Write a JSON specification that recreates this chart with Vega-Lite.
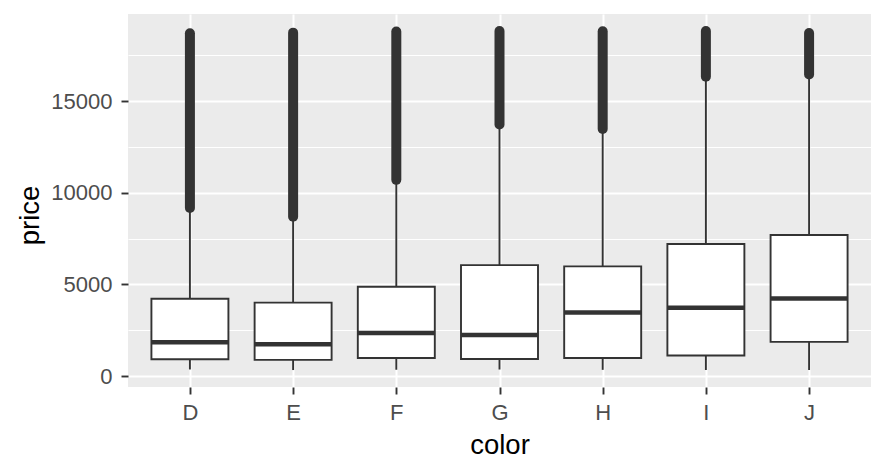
{
  "$schema": "https://vega.github.io/schema/vega-lite/v6.json",
  "width": 743,
  "height": 373,
  "autosize": {"type": "none"},
  "padding": {"left": 128, "top": 14, "right": 15, "bottom": 87},
  "background": "white",
  "view": {"fill": "#EBEBEB", "stroke": null},
  "config": {
    "axis": {
      "domain": false,
      "tickColor": "#333333",
      "tickWidth": 1.9,
      "tickSize": 7,
      "labelColor": "#4D4D4D",
      "labelFont": "Liberation Sans",
      "labelFontSize": 22,
      "titleFont": "Liberation Sans",
      "titleFontSize": 27.5,
      "titleFontWeight": "normal",
      "titleColor": "#000000",
      "gridColor": "#FFFFFF",
      "gridWidth": 2,
      "gridOpacity": 1
    }
  },
  "data": {
    "values": [
      {"color": "D", "lower": 357, "q1": 911, "median": 1838, "q3": 4213.5, "upper": 9163, "out_lo": 9171, "out_hi": 18693},
      {"color": "E", "lower": 326, "q1": 882, "median": 1739, "q3": 4003, "upper": 8681, "out_lo": 8690, "out_hi": 18731},
      {"color": "F", "lower": 342, "q1": 982, "median": 2343.5, "q3": 4868, "upper": 10695, "out_lo": 10700, "out_hi": 18791},
      {"color": "G", "lower": 354, "q1": 931, "median": 2242, "q3": 6048, "upper": 13720, "out_lo": 13726, "out_hi": 18818},
      {"color": "H", "lower": 337, "q1": 984, "median": 3460, "q3": 5980, "upper": 13470, "out_lo": 13478, "out_hi": 18803},
      {"color": "I", "lower": 334, "q1": 1120.5, "median": 3730, "q3": 7201.75, "upper": 16320, "out_lo": 16326, "out_hi": 18823},
      {"color": "J", "lower": 335, "q1": 1860.5, "median": 4234, "q3": 7695, "upper": 16440, "out_lo": 16450, "out_hi": 18710}
    ]
  },
  "encoding": {
    "x": {
      "field": "color",
      "type": "nominal",
      "scale": {"type": "point", "padding": 0.6},
      "axis": {
        "title": "color",
        "labelAngle": 0,
        "labelPadding": 8,
        "grid": true,
        "titleBaseline": "alphabetic",
        "titleY": 66.5
      }
    }
  },
  "layer": [
    {
      "mark": {"type": "rule", "color": "#FFFFFF", "strokeWidth": 0},
      "encoding": {
        "y": {
          "field": "median",
          "type": "quantitative",
          "scale": {"domain": [-599, 19748], "nice": false, "zero": false},
          "axis": {
            "orient": "left",
            "values": [2500, 7500, 12500, 17500],
            "labels": false,
            "ticks": false,
            "title": null,
            "grid": true,
            "gridWidth": 1
          }
        }
      }
    },
    {
      "mark": {"type": "rule", "color": "#333333", "strokeWidth": 1.9},
      "encoding": {
        "y": {
          "field": "lower",
          "type": "quantitative",
          "axis": {
            "orient": "left",
            "values": [0, 5000, 10000, 15000],
            "format": "d",
            "title": "price",
            "labelPadding": 9,
            "grid": true,
            "titleAngle": -90,
            "titleBaseline": "alphabetic",
            "titleAlign": "center",
            "titleX": -90,
            "titleY": 201
          }
        },
        "y2": {"field": "upper"}
      }
    },
    {
      "mark": {"type": "bar", "fill": "#FFFFFF", "stroke": "#333333", "strokeWidth": 1.9, "size": 77},
      "encoding": {
        "y": {"field": "q1", "type": "quantitative", "axis": null},
        "y2": {"field": "q3"}
      }
    },
    {
      "mark": {"type": "tick", "color": "#333333", "size": 77, "thickness": 4.5, "opacity": 1, "orient": "horizontal"},
      "encoding": {
        "y": {"field": "median", "type": "quantitative", "axis": null}
      }
    },
    {
      "mark": {"type": "rule", "color": "#333333", "strokeWidth": 10, "strokeCap": "round"},
      "encoding": {
        "y": {"field": "out_lo", "type": "quantitative", "axis": null},
        "y2": {"field": "out_hi"}
      }
    }
  ],
  "resolve": {"axis": {"y": "independent"}}
}
